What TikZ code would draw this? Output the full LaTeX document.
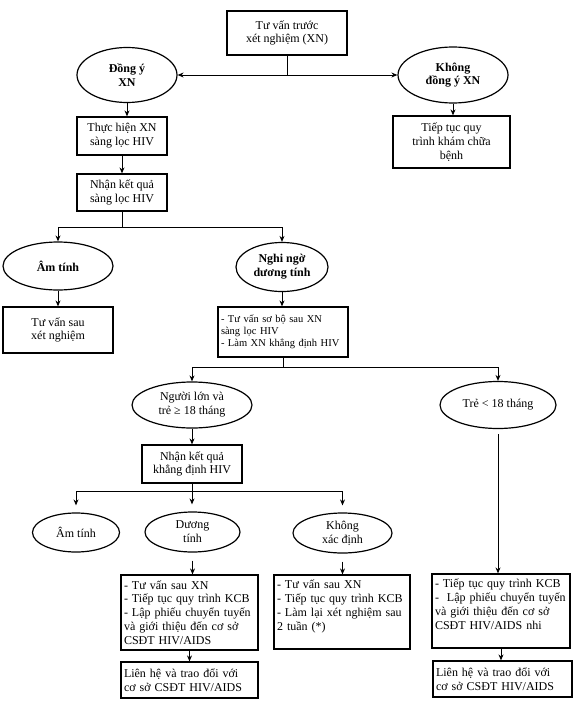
\documentclass[tikz,border=0pt]{standalone}
\usepackage{fontspec}
\setmainfont{Liberation Serif}
\usetikzlibrary{arrows.meta,shapes.geometric}
\newcommand{\fillline}[1]{\makebox[\linewidth][s]{#1}}

\begin{document}
\begin{tikzpicture}[x=1pt,y=-1pt,>={Stealth[length=6pt,width=5pt]},
 font=\fontsize{12}{13.8}\selectfont,
 hop/.style={draw,line width=1.2pt,inner xsep=3pt,inner ysep=2pt,align=center},
 hopleft/.style={hop,align=left},
 oval/.style={ellipse,draw,line width=1.2pt,inner sep=0pt,align=center},
 boldoval/.style={oval,font=\fontsize{12}{13.8}\selectfont\bfseries},
 link/.style={line width=1pt}]
\useasboundingbox (0,0) rectangle (578,709);
% level 1
\node[hop,minimum width=120pt,minimum height=44pt] (tv) at (287,33) {Tư vấn trước\\xét nghiệm (XN)};
\node[boldoval,minimum width=100pt,minimum height=55pt] (dy) at (127,75) {Đồng ý\\XN};
\node[boldoval,minimum width=110pt,minimum height=56pt] (kd) at (453,75) {Không\\đồng ý XN};
\node[hop,minimum width=90pt,minimum height=38pt] (th) at (122,136) {Thực hiện XN\\sàng lọc HIV};
\node[hop,minimum width=90pt,minimum height=37pt] (nk) at (122,192.5) {Nhận kết quả\\sàng lọc HIV};
\node[hop,minimum width=117pt,minimum height=52pt] (tt) at (451.5,142) {Tiếp tục quy\\trình khám chữa\\bệnh};
% level 2
\node[boldoval,minimum width=110pt,minimum height=48pt] (at1) at (58,266) {Âm tính};
\node[boldoval,minimum width=92pt,minimum height=49pt] (ng) at (282,267) {Nghi ngờ\\dương tính};
\node[hop,minimum width=110pt,minimum height=46pt] (tvs) at (58,330) {Tư vấn sau\\xét nghiệm};
\node[hopleft,text width=124pt,minimum height=50pt,font=\fontsize{10.5}{12}\selectfont] (sb) at (283,332)
 {- Tư vấn sơ bộ sau XN\\sàng lọc HIV\\- Làm XN khẳng định HIV};
% level 3
\node[oval,minimum width=120pt,minimum height=46pt] (nl) at (192,405) {Người lớn và\\trẻ ≥ 18 tháng};
\node[oval,minimum width=116pt,minimum height=47pt] (tr) at (498,405) {Trẻ < 18 tháng};
\node[hop,minimum width=100pt,minimum height=38pt] (nkk) at (192,464) {Nhận kết quả\\khẳng định HIV};
\node[oval,minimum width=87pt,minimum height=39pt] (at2) at (76,532.5) {Âm tính};
\node[oval,minimum width=95pt,minimum height=40pt] (dt) at (192.5,532) {Dương\\tính};
\node[oval,minimum width=99pt,minimum height=40pt] (kx) at (342.5,533) {Không\\xác định};
% bottom boxes
\node[hopleft,text width=131pt,minimum height=75pt] (b1) at (189.5,612.5)
 {- Tư vấn sau XN\\- Tiếp tục quy trình KCB\\\fillline{- Lập phiếu chuyển tuyến}\\\fillline{và giới thiệu đến cơ sở}\\CSĐT HIV/AIDS};
\node[hopleft,text width=130pt,minimum height=74pt] (b2) at (342,612)
 {- Tư vấn sau XN\\- Tiếp tục quy trình KCB\\\fillline{- Làm lại xét nghiệm sau}\\2 tuần (*)\\\mbox{}};
\node[hopleft,text width=132pt,minimum height=74pt] (b3) at (501,611)
 {- Tiếp tục quy trình KCB\\\fillline{-\ \ Lập phiếu chuyển tuyến}\\\fillline{và giới thiệu đến cơ sở}\\CSĐT HIV/AIDS nhi\\\mbox{}};
\node[hopleft,text width=131pt,minimum height=36pt] (l1) at (189.5,680)
 {Liên hệ và trao đổi với\\cơ sở CSĐT HIV/AIDS};
\node[hopleft,text width=133pt,minimum height=36pt] (l2) at (502.5,679)
 {Liên hệ và trao đổi với\\cơ sở CSĐT HIV/AIDS};
% connectors
\draw[link] (tv.south) -- (tv.south |- dy.east);
\draw[link,<->] (dy.east) -- (kd.west);
\draw[link,->] (dy.south) -- (dy.south |- th.north);
\draw[link,->] (kd.south) -- (kd.south |- tt.north);
\draw[link,->] (th.south) -- (nk.north);
\draw[link] (nk.south) -- ++(0,16) coordinate (j1);
\draw[link,->] (j1) -| (at1.north);
\draw[link,->] (j1) -| (ng.north);
\draw[link,->] (at1.south) -- (tvs.north);
\draw[link,->] (ng.south) -- (ng.south |- sb.north);
\draw[link] (sb.south) -- ++(0,10) coordinate (j2);
\draw[link,->] (j2) -| (nl.north);
\draw[link,->] (j2) -| (tr.north);
\draw[link,->] (nl.south) -- (nkk.north);
\draw[link] (nkk.south) -- ++(0,8) coordinate (j3);
\draw[link,->,shorten >=7pt] (j3) -| (at2.north);
\draw[link,->,shorten >=7pt] (j3) -- (j3 |- dt.north);
\draw[link,->,shorten >=7pt] (j3) -| (kx.north);
\draw[link,->,shorten <=8pt] (dt.south) -- (dt.south |- b1.north);
\draw[link,->,shorten <=8pt] (kx.south) -- (kx.south |- b2.north);
\draw[link,->,shorten <=5pt] (tr.south) -- (tr.south |- b3.north);
\draw[link,->] (b1.south) -- (l1.north);
\draw[link,->] (b3.south) -- (b3.south |- l2.north);
\end{tikzpicture}
\end{document}
